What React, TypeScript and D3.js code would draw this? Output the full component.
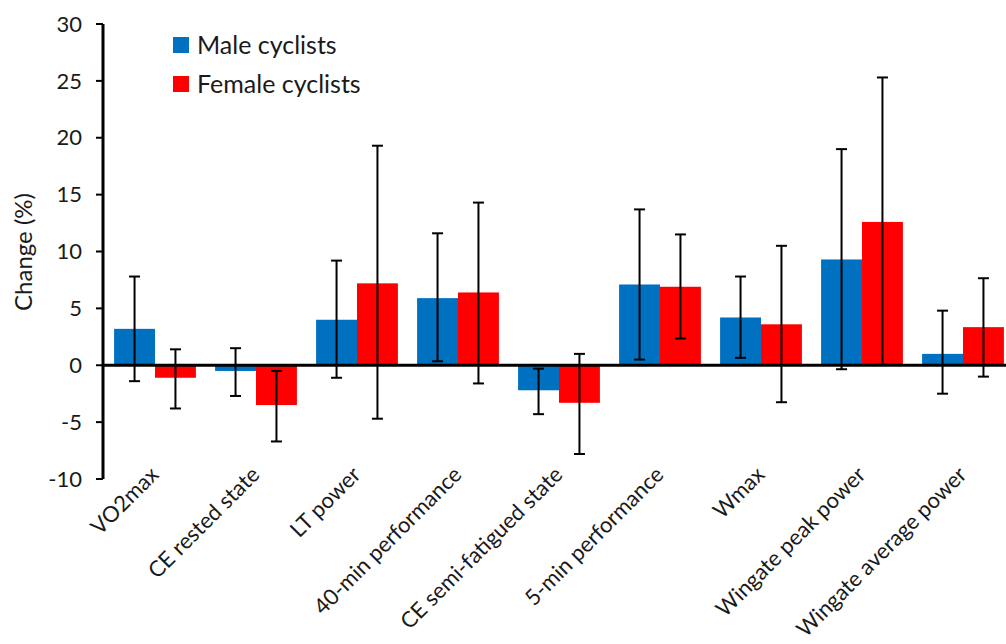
import React from "react";
import * as d3 from "d3";

const categories = [
  "VO2max",
  "CE rested state",
  "LT power",
  "40-min performance",
  "CE semi-fatigued state",
  "5-min performance",
  "Wmax",
  "Wingate peak power",
  "Wingate average power",
];
const seriesNames = ["Male cyclists", "Female cyclists"];
const maleMean = [3.2, -0.5, 4.0, 5.9, -2.2, 7.1, 4.2, 9.3, 1.0];
const maleUpper = [7.8, 1.5, 9.2, 11.6, -0.3, 13.7, 7.8, 19.0, 4.8];
const maleLower = [-1.4, -2.7, -1.1, 0.35, -4.3, 0.5, 0.65, -0.35, -2.5];
const femaleMean = [-1.1, -3.5, 7.2, 6.4, -3.3, 6.9, 3.6, 12.6, 3.35];
const femaleUpper = [1.4, -0.5, 19.3, 14.3, 1.0, 11.5, 10.5, 25.3, 7.65];
const femaleLower = [-3.8, -6.7, -4.7, -1.6, -7.8, 2.35, -3.25, 0.05, -1.0];
const yTicks = [-10, -5, 0, 5, 10, 15, 20, 25, 30];
const colors = ["#0070C0", "#FF0000"];

const W = 1006;
const H = 644;
const FONT = "Lato, 'Open Sans', sans-serif";
const TEXT = "#1a1a1a";

export default function App() {
  const y = d3.scaleLinear().domain([-10, 30]).range([479, 24]);
  const x0 = d3.scaleBand().domain(categories).range([104.5, 1013.5]).paddingInner(0.19).paddingOuter(0.095);
  const x1 = d3.scaleBand().domain(seriesNames).range([0, x0.bandwidth()]);
  const axisX = 103;

  const series = [
    { name: seriesNames[0], mean: maleMean, up: maleUpper, lo: maleLower, color: colors[0] },
    { name: seriesNames[1], mean: femaleMean, up: femaleUpper, lo: femaleLower, color: colors[1] },
  ];

  return (
    <>
      <style>{"body{margin:0}"}</style>
      <svg width={W} height={H} style={{ display: "block", fontFamily: FONT }}>
        <rect width={W} height={H} fill="#fff" />
        {series.map((s) =>
          categories.map((c, i) => {
            const v = s.mean[i];
            const bx = (x0(c) as number) + (x1(s.name) as number);
            return (
              <rect
                key={s.name + c}
                x={bx}
                y={Math.min(y(v), y(0))}
                width={x1.bandwidth()}
                height={Math.abs(y(v) - y(0))}
                fill={s.color}
              />
            );
          })
        )}
        <line x1={axisX} x2={W} y1={y(0)} y2={y(0)} stroke="#000" strokeWidth={3} />
        {series.map((s) =>
          categories.map((c, i) => {
            const cx = (x0(c) as number) + (x1(s.name) as number) + x1.bandwidth() / 2;
            return (
              <g key={"e" + s.name + c} stroke="#000" strokeWidth={2}>
                <line x1={cx} x2={cx} y1={y(s.up[i])} y2={y(s.lo[i])} />
                <line x1={cx - 5.5} x2={cx + 5.5} y1={y(s.up[i])} y2={y(s.up[i])} />
                <line x1={cx - 5.5} x2={cx + 5.5} y1={y(s.lo[i])} y2={y(s.lo[i])} />
              </g>
            );
          })
        )}
        <line x1={axisX} x2={axisX} y1={y(30)} y2={y(-10)} stroke="#000" strokeWidth={3} />
        {yTicks.map((t) => (
          <g key={t}>
            <line x1={axisX - 7} x2={axisX} y1={y(t)} y2={y(t)} stroke="#000" strokeWidth={2} />
            <text x={82} y={y(t)} dy="0.35em" textAnchor="end" fontSize={22} fill={TEXT}>
              {t}
            </text>
          </g>
        ))}
        <text
          transform={`translate(32,252) rotate(-90)`}
          textAnchor="middle"
          fontSize={24}
          fill={TEXT}
        >
          Change (%)
        </text>
        {categories.map((c) => {
          const cx = (x0(c) as number) + x0.bandwidth() / 2 + 5;
          return (
            <text
              key={"l" + c}
              transform={`translate(${cx},${476}) rotate(-45)`}
              textAnchor="end"
              fontSize={22}
              fill={TEXT}
            >
              {c}
            </text>
          );
        })}
        {seriesNames.map((n, i) => (
          <g key={"lg" + n} transform={`translate(173,${37 + i * 39})`}>
            <rect width={16} height={16} fill={colors[i]} />
            <text x={24} y={8} dy="0.36em" fontSize={25} fill={TEXT}>
              {n}
            </text>
          </g>
        ))}
      </svg>
    </>
  );
}
